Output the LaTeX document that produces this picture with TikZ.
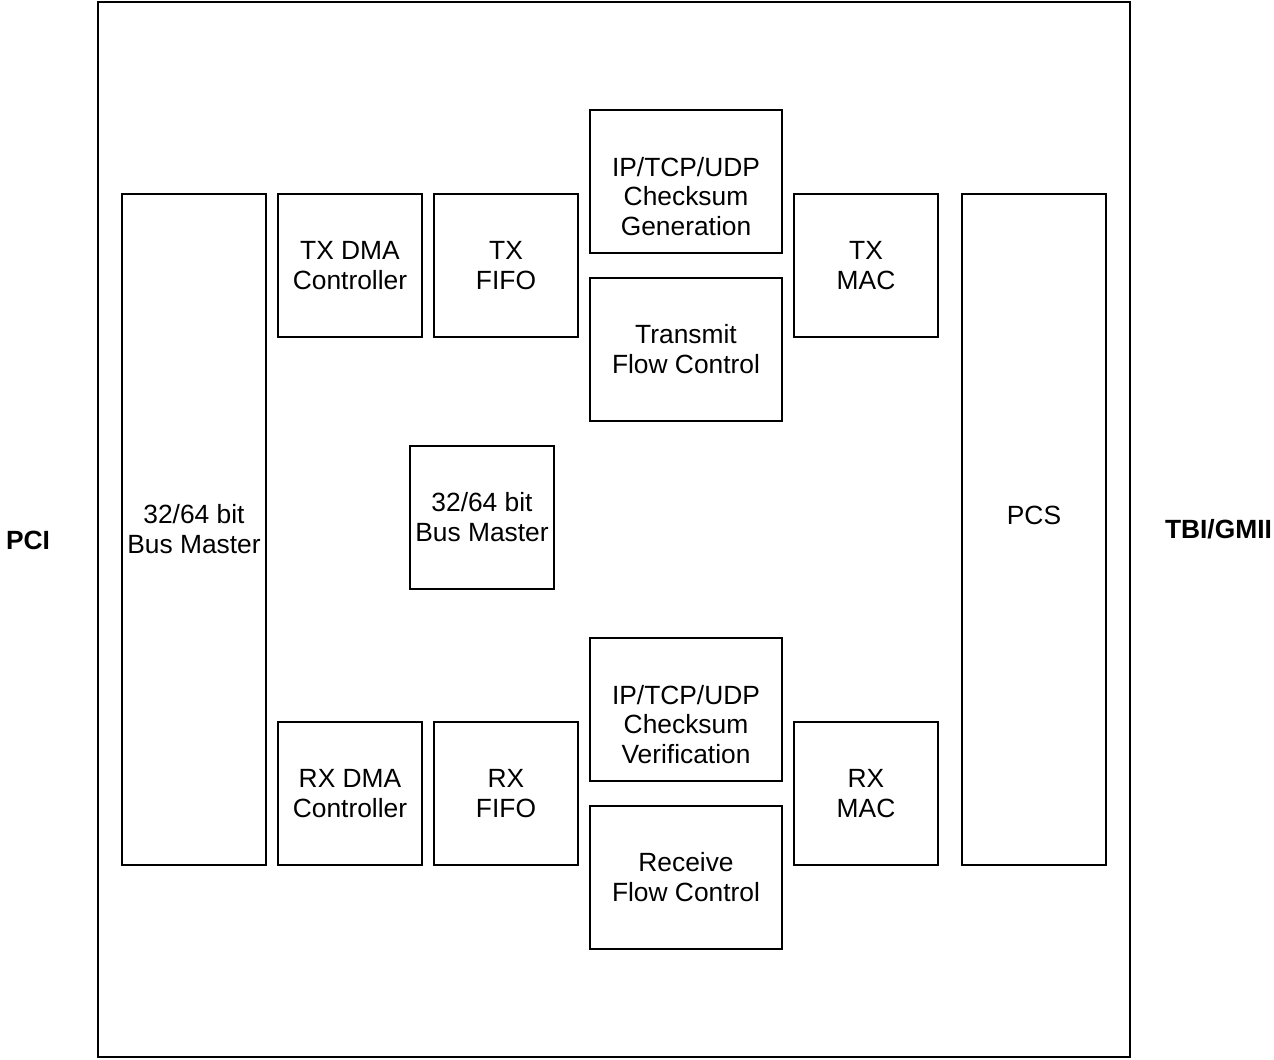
\documentclass[tikz,border=0pt]{standalone}
\usepackage{fontspec}
\setmainfont{Liberation Sans}
\usetikzlibrary{positioning}

\begin{document}
\begin{tikzpicture}[
  font=\fontsize{15}{17}\selectfont,
  block/.style={draw=black, line width=1.1pt, fill=white, align=center,
    minimum width=2.88cm, minimum height=2.86cm, inner sep=0pt},
  wideblock/.style={block, minimum width=3.84cm},
  tallblock/.style={block, minimum height=13.42cm},
  port/.style={font=\fontsize{15}{17}\selectfont\bfseries}
]
\useasboundingbox (0,0) rectangle (25.48,-21.18);

\node[draw=black, line width=1.1pt, minimum width=20.64cm, minimum height=21.1cm,
  inner sep=0pt] (chip) at (12.28,-10.59) {};

\node[tallblock] (pcibus) at (3.88,-10.59) {32/64 bit\\Bus Master};
\node[tallblock, label={[yshift=0.28cm, align=center]center:PCS}] (pcs) at (20.68,-10.59) {};

\node[block] (txdma) at (7.00,-5.31) {TX DMA\\Controller};
\node[block] (txfifo) at (10.12,-5.31) {TX\\FIFO};
\node[wideblock, label={[yshift=-0.3cm, align=center]center:IP/TCP/UDP\\Checksum\\Generation}]
  (txcsum) at (13.72,-3.63) {};
\node[wideblock] (txflow) at (13.72,-6.99) {Transmit\\Flow Control};
\node[block] (txmac) at (17.32,-5.31) {TX\\MAC};

\node[block] (busmaster) at (9.64,-10.35) {32/64 bit\\Bus Master};

\node[block] (rxdma) at (7.00,-15.87) {RX DMA\\Controller};
\node[block] (rxfifo) at (10.12,-15.87) {RX\\FIFO};
\node[wideblock, label={[yshift=-0.3cm, align=center]center:IP/TCP/UDP\\Checksum\\Verification}]
  (rxcsum) at (13.72,-14.19) {};
\node[wideblock] (rxflow) at (13.72,-17.55) {Receive\\Flow Control};
\node[block] (rxmac) at (17.32,-15.87) {RX\\MAC};

\node[port] (pci) at (0.56,-10.80) {PCI};
\node[port, anchor=east, inner sep=1pt] (tbi) at (25.48,-10.58) {TBI/GMII};
\end{tikzpicture}
\end{document}
